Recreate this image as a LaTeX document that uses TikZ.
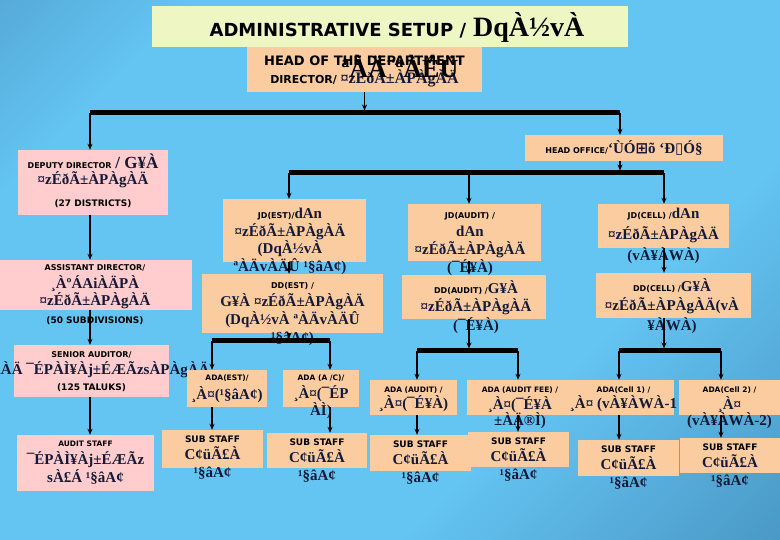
\documentclass[tikz,border=0pt]{standalone}
\usepackage{fontspec}
\usetikzlibrary{arrows.meta,positioning}
\newfontfamily\kanf{Liberation Serif}
\newfontfamily\engf{DejaVu Sans}
\newfontfamily\symf{DejaVu Sans}
\newcommand\engtxt[2][8]{{\engf\bfseries\fontsize{#1}{#1}\selectfont\color{black}#2}}
\definecolor{bgdark}{RGB}{66,136,182}
\definecolor{bglight}{RGB}{100,196,242}
\definecolor{bgdeep}{RGB}{56,122,166}
\definecolor{peach}{RGB}{251,204,160}
\definecolor{pinkbox}{RGB}{255,205,205}
\definecolor{cream}{RGB}{238,246,196}
\definecolor{ink}{RGB}{20,25,55}
\pgfdeclarehorizontalshading{slide}{100bp}{color(0bp)=(bgdark); color(25bp)=(bglight); color(65bp)=(bglight); color(100bp)=(bgdeep)}
\begin{document}
\begin{tikzpicture}[x=1pt, y=-1pt,
  txt/.style={align=center, inner sep=0pt, text=ink, font=\kanf\bfseries\fontsize{15}{#1}\selectfont},
  txt/.default=17.5,
  link/.style={line width=1.5pt, -{Stealth[length=6pt, width=5pt]}},
  bar/.style={line width=5pt}]
  \clip (0,0) rectangle (780,540);
  \shade[shading=slide, shading angle=-45] (0,0) rectangle (780,540);

  % top and left column
  \foreach \n/\x/\y/\w/\h/\c in {title/390/26.5/476/41/cream, head/364.5/69.5/235/45/peach,
      deputy/93/182.5/150/65/pinkbox, office/624/148/198/26/peach, assist/96/285/192/50/pinkbox,
      senior/91.5/371/155/52/pinkbox, staff/85.5/463/137/56/pinkbox}
    \node[fill=\c, inner sep=0pt, minimum width=\w pt, minimum height=\h pt] (\n) at (\x,\y) {};

  \node[txt=20] (title-t) at (397,27) {\engtxt[18]{ADMINISTRATIVE SETUP /}\hspace{7pt}{\fontsize{28}{30}\selectfont\color{black}DqÀ½vÀ}};
  \node[txt=18, below=8.5pt of head.north] (head-t) {\engtxt[13]{HEAD OF THE DEPARTMENT}\\\engtxt[11]{DIRECTOR/} {\fontsize{16}{16}\selectfont ¤zÉðÃ±ÀPÀgÀÄ}};
  \node[txt] (head-k) at (400,66) {\fontsize{26}{26}\selectfont\color{black}ªÀÄ¨ªÀÉÜ};
  \node[txt] (office-t) at (office) {\engtxt{HEAD OFFICE/}‘ÙÓ{\symf ⊞}õ ‘Ð{\symf ▯}Ó§};
  \node[txt=16, below=3.5pt of deputy.north] (deputy-t) {\engtxt{DEPUTY DIRECTOR} {\fontsize{17}{17}\selectfont / G¥À}\\¤zÉðÃ±ÀPÀgÀÄ\\[6.5pt]\engtxt[9]{(27 DISTRICTS)}};
  \node[txt, below=5pt of assist.north, xshift=-1pt] (assist-t) {\engtxt{ASSISTANT DIRECTOR/}\\¸ÀºÁAiÀÄPÀ\\¤zÉðÃ±ÀPÀgÀÄ\\\engtxt[9]{(50 SUBDIVISIONS)}};
  \node[txt=16.5, below=7pt of senior.north] (senior-t) {\engtxt{SENIOR AUDITOR/}\\»jAiÀÄ ¯ÉPÀÌ¥Àj±ÉÆÃzsÀPÀgÀÄ\\\engtxt[9]{(125 TALUKS)}};
  \node[txt=18, below=5.5pt of staff.north] (staff-t) {\engtxt[7.5]{AUDIT STAFF}\\¯ÉPÀÌ¥Àj±ÉÆÃz\\sÀ£Á ¹§âA¢};

  % directorates, assistant directors, sub staff
  \foreach \n/\x/\y/\w/\h in {jdest/294.5/230.5/143/63, ddest/292.5/303.5/181/59,
      jdaudit/474.5/232.5/133/57, ddaudit/474/297/144/44, jdcell/663.5/226/131/44, ddcell/673.5/295.5/155/45,
      adaest/227/388.5/80/37, adaac/321/388.5/76/37, adaaudit/413.5/397.5/87/35, adafee/520/397.5/106/35,
      adacell1/623.5/397.5/101/35, adacell2/729.5/397.5/101/35,
      sub1/212.5/449/101/38, sub2/317/450.5/100/35, sub3/420.5/453/101/36,
      sub4/518.5/449.5/101/35, sub5/628.5/458/101/36, sub6/730/455.5/100/35}
    \node[fill=peach, inner sep=0pt, minimum width=\w pt, minimum height=\h pt] (\n) at (\x,\y) {};

  \node[txt, below=9.5pt of jdest.north, xshift=-4.5pt] (jdest-t) {\engtxt{JD(EST)/}dAn\\¤zÉðÃ±ÀPÀgÀÄ\\(DqÀ½vÀ\\ªÀÄvÀÄÛ ¹§âA¢)};
  \node[txt=18, below=8pt of ddest.north] (ddest-t) {\engtxt{DD(EST) /}\\G¥À ¤zÉðÃ±ÀPÀgÀÄ\\(DqÀ½vÀ ªÀÄvÀÄÛ\\¹§âA¢)};
  \node[txt=18, below=8pt of jdaudit.north, xshift=-4.5pt] (jdaudit-t) {\engtxt{JD(AUDIT) /}\\dAn\\¤zÉðÃ±ÀPÀgÀÄ\\(¯É¥À)};
  \node[txt=18.5, below=5.5pt of ddaudit.north, xshift=2pt] (ddaudit-t) {\engtxt{DD(AUDIT) /}G¥À\\¤zÉðÃ±ÀPÀgÀÄ\\(¯É¥À)};
  \node[txt=21, below=4.5pt of jdcell.north] (jdcell-t) {\engtxt{JD(CELL) /}dAn\\¤zÉðÃ±ÀPÀgÀÄ\\(vÀ¥ÀWÀ)};
  \node[txt=19.5, below=5.5pt of ddcell.north, xshift=-1.5pt] (ddcell-t) {\engtxt{DD(CELL) /}G¥À\\¤zÉðÃ±ÀPÀgÀÄ(vÀ\\¥ÀWÀ)};
  \node[txt=18.5, below=5pt of adaest.north] (adaest-t) {\engtxt[7.5]{ADA(EST)/}\\¸À¤(¹§âA¢)};
  \node[txt, below=5pt of adaac.north] (adaac-t) {\engtxt[7.5]{ADA (A /C)/}\\¸À¤(¯ÉP\\ÀÌ)};
  \node[txt=16, below=7pt of adaaudit.north] (adaaudit-t) {\engtxt[7.5]{ADA (AUDIT) /}\\¸À¤(¯É¥À)};
  \node[txt=16.5, below=7pt of adafee.north] (adafee-t) {\engtxt[7.5]{ADA (AUDIT FEE) /}\\¸À¤(¯É¥À\\±ÀÄ®Ì)};
  \node[txt=16, below=7pt of adacell1.north] (adacell1-t) {\engtxt[7.5]{ADA(Cell 1) /}\\¸À¤ (vÀ¥ÀWÀ-1};
  \node[txt=16.5, below=7pt of adacell2.north] (adacell2-t) {\engtxt[7.5]{ADA(Cell 2) /}\\¸À¤\\(vÀ¥ÀWÀ-2)};
  \foreach \s in {sub1, sub2, sub3, sub4, sub5, sub6}
    \node[txt, below=5.5pt of \s.north] (\s-t) {\engtxt[9]{SUB STAFF}\\C¢üÃ£À\\¹§âA¢};

  % connectors
  \coordinate (b1l) at (90,113);   \coordinate (b1r) at (620,113);
  \coordinate (b2l) at (289,173);  \coordinate (b2m) at (469,173);  \coordinate (b2r) at (664,173);
  \coordinate (e1) at (212,341);   \coordinate (e2) at (330,341);
  \coordinate (a1) at (417,351);   \coordinate (a2) at (518,351);
  \coordinate (c1) at (619,351);   \coordinate (c2) at (721,351);
  \foreach \l/\r in {b1l/b1r, b2l/b2r, e1/e2, a1/a2, c1/c2}
    \draw[bar] (\l) -- (\r);
  \draw[link, shorten >=2.5pt] (head) -- (head |- b1l);
  \draw[link, shorten >=2.5pt] (b1r |- office.south) -- (b1r |- b2l);
  \foreach \p/\u/\q in {b2l/ddest/e1, b2m/ddaudit/a1, b2r/ddcell/c1}
    \draw[link, shorten >=2.5pt] (\p |- \u.south) -- (\p |- \q);
  \draw[link] (b1l) -- (b1l |- deputy.north);
  \draw[link] (b1r) -- (b1r |- office.north);
  \foreach \p/\c in {b2l/jdest, b2m/jdaudit, b2r/jdcell}
    \draw[link] (\p) -- (\p |- \c.north);
  \foreach \p/\u/\v in {b1l/deputy/assist, b1l/assist/senior, b1l/senior/staff,
      b2l/jdest/ddest, b2m/jdaudit/ddaudit, b2r/jdcell/ddcell}
    \draw[link] (\p |- \u.south) -- (\p |- \v.north);
  \foreach \p/\a/\s in {e1/adaest/sub1, e2/adaac/sub2, a1/adaaudit/sub3,
      a2/adafee/sub4, c1/adacell1/sub5, c2/adacell2/sub6}{
    \draw[link] (\p) -- (\p |- \a.north);
    \draw[link] (\p |- \a.south) -- (\p |- \s.north);
  }
\end{tikzpicture}
\end{document}
